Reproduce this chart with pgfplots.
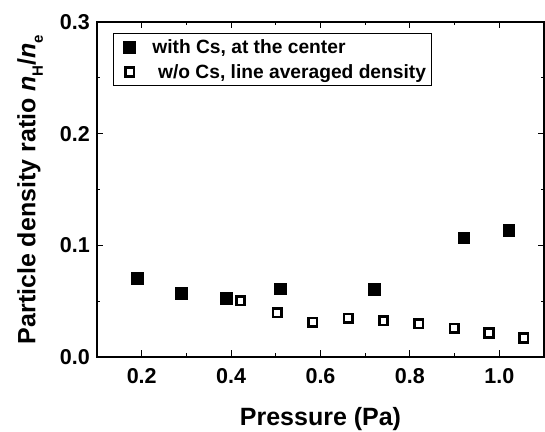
\documentclass[border=0pt]{standalone}
\usepackage{fontspec}
\setmainfont{Liberation Sans}
\usepackage{pgfplots}
\pgfplotsset{compat=1.18}
\begin{document}
\begin{tikzpicture}
\begin{axis}[name=ax, scale only axis, width=447pt, height=335pt,
  xmin=0.1, xmax=1.1, ymin=0, ymax=0.3,
  xtick={0.2,0.4,0.6,0.8,1.0}, ytick={0,0.1,0.2,0.3},
  minor x tick num=1, minor y tick num=1,
  tick align=inside, major tick length=6.5pt, minor tick length=3.5pt,
  every tick/.style={line width=0.9pt, black},
  axis line style={line width=1.2pt},
  /pgf/number format/assume math mode=true,
  /pgf/number format/fixed, /pgf/number format/fixed zerofill, /pgf/number format/precision=1,
  ticklabel style={font=\fontsize{21.5}{25}\selectfont\bfseries},
  yticklabel style={inner sep=0pt, anchor=east, xshift=-7pt},
  xticklabel style={inner sep=0pt, anchor=north, yshift=-11pt},
  xlabel={\bfseries Pressure (Pa)},
  ylabel={\bfseries Particle density ratio \textit{n}\raisebox{-0.3em}{\fontsize{15}{15}\selectfont H}/\textit{n}\raisebox{-0.3em}{\fontsize{15}{15}\selectfont e}},
  label style={font=\fontsize{25}{30}\selectfont\bfseries, inner sep=0pt},
  xlabel style={at={([yshift=-69pt]axis description cs:0.5,0)}, anchor=base},
  ylabel style={at={([xshift=-80pt]axis description cs:0,0.5)}, anchor=north, rotate=0},
  legend style={at={([xshift=16pt,yshift=-11pt]axis description cs:0,1)}, anchor=north west,
    font=\fontsize{19.2}{22}\selectfont\bfseries, draw=black, line width=0.8pt,
    inner xsep=3pt, inner ysep=4pt, row sep=5.5pt, column sep=0pt,
    /tikz/every odd column/.style={column sep=15pt}},
  legend image code/.code={\path (-12.8pt,0pt); \draw[#1] (0pt,0pt) plot coordinates {(0pt,0pt)};},
  legend cell align=left,
]
\addplot[only marks, mark=square*, mark size=5.8pt, black] coordinates {
 (0.19,0.0705) (0.289,0.057) (0.389,0.0525) (0.510,0.0612) (0.7195,0.0609) (0.9206,0.107) (1.0206,0.1138)
};
\addlegendentry{with Cs, at the center}
\addplot[only marks, mark=square, mark size=4.25pt, black, mark options={line width=2.6pt}] coordinates {
 (0.421,0.0505) (0.503,0.0397) (0.583,0.031) (0.662,0.0347) (0.741,0.0323) (0.820,0.0296) (0.8996,0.0257) (0.977,0.0215) (1.055,0.017)
};
\addlegendentry{\hspace{0.3em}w/o Cs, line averaged density}
\end{axis}
\path (ax.south west) ++(-97pt,-73pt) coordinate (bl);
\path (ax.north east) ++(1pt,22pt) coordinate (tr);
\path (bl) rectangle (tr);
\end{tikzpicture}
\end{document}
